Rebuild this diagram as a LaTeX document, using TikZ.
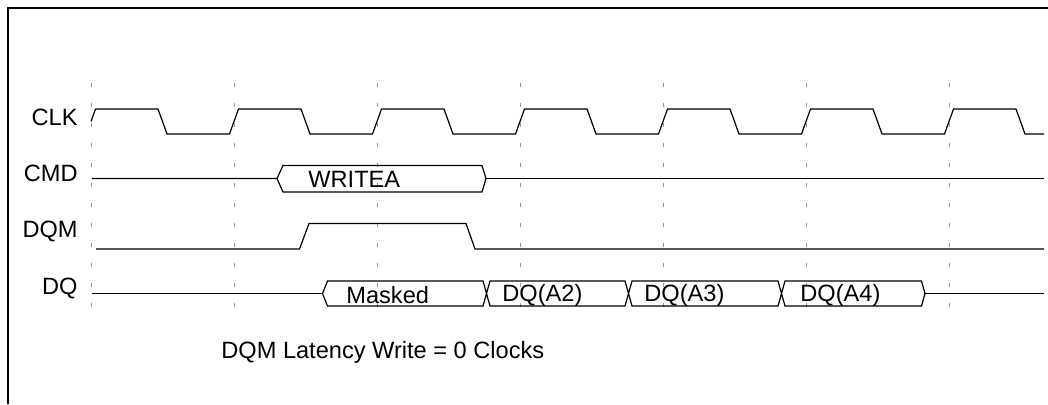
\documentclass[tikz,border=0pt]{standalone}
\usepackage{fontspec}
\setmainfont{Liberation Sans}
\usepackage{tikz}
\usetikzlibrary{positioning}
\definecolor{gridgray}{RGB}{150, 150, 150}

\begin{document}
\begin{tikzpicture}[x=0.5pt, y=-0.5pt, font=\fontsize{11.8}{14}\selectfont,
  sig/.style={line width=0.6pt, line join=miter},
  tick/.style={gridgray, line width=0.5pt, dash pattern=on 2pt off 8pt},
  lbl/.style={anchor=east, inner sep=0pt},
  bustext/.style={anchor=west, inner sep=0pt}]

\pgfmathsetmacro{\per}{143}
\useasboundingbox (0, 0) rectangle (1048, 404);

% frame
\draw[line width=1pt] (8, 404) -- (8, 8) -- (1048, 8);

% clock grid
\foreach \k in {0, ..., 6} {
  \draw[tick] ({91 + \k*\per}, 83) -- ({91 + \k*\per}, 310);
}

% signal names
\node[lbl] (clk) at (78, 117) {CLK};
\node[lbl] (cmd) at (78, 173) {CMD};
\node[lbl] (dqm) at (78, 231) {DQM};
\node[lbl] (dq)  at (78, 288) {DQ};

% CLK
\draw[sig] (91, 121.5) -- (95.5, 109)
  \foreach \k in {0, ..., 5} {
    -- ({91 + \k*\per + 67}, 109) -- ({91 + \k*\per + 76}, 134)
    -- ({91 + \k*\per + 138.5}, 134) -- ({91 + \k*\per + 147.5}, 109)
  }
  -- (1016, 109) -- (1025, 134) -- (1044, 134);

% CMD
\draw[sig] (92, 178.5) -- (277, 178.5) -- (283, 165.5) -- (482, 165.5)
  -- (486, 178.5) -- (482, 192) -- (283, 192) -- (277, 178.5);
\draw[sig] (486, 178.5) -- (1044, 178.5);
\node[bustext] (writea) at (308, 179) {WRITEA};

% DQM
\draw[sig] (96, 249) -- (299.5, 249) -- (309, 223.5) -- (466, 223.5)
  -- (475, 249) -- (1044, 249);

% DQ
\draw[sig] (92, 293.5) -- (322.5, 293.5);
\draw[sig] (322.5, 293.5) -- (327.5, 281) -- (483, 281) -- (490, 306)
  -- (625, 306) -- (632, 281) -- (778, 281) -- (785, 306) -- (921.5, 306)
  -- (925, 293.5) -- (921.5, 281) -- (785, 281) -- (778, 306) -- (632, 306)
  -- (625, 281) -- (490, 281) -- (483, 306) -- (327.5, 306) -- cycle;
\draw[sig] (925, 293.5) -- (1044, 293.5);
\node[bustext] (masked) at (346, 295) {Masked};
\node[bustext] (dqa2) at (502, 295) {DQ(A2)};
\node[bustext] (dqa3) at (644, 295) {DQ(A3)};
\node[bustext] (dqa4) at (800, 295) {DQ(A4)};

\node[bustext] (note) at (221, 352) {DQM Latency Write = 0 Clocks};

\end{tikzpicture}
\end{document}
